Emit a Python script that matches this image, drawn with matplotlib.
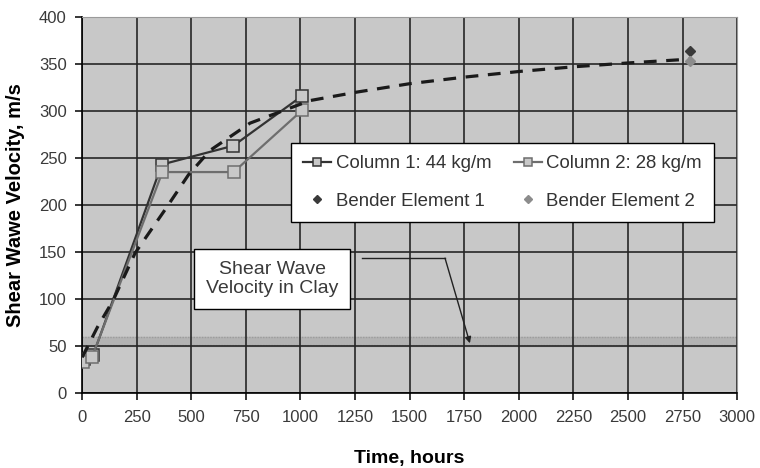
import matplotlib
matplotlib.use("Agg")
import matplotlib.pyplot as plt

# --------------------------------------------------------
# Data
# --------------------------------------------------------
col1_t = [10, 50, 365, 693, 1008]
col1_v = [36, 40, 243, 263, 316]

col2_t = [5, 45, 368, 694, 1009]
col2_v = [33, 38, 235, 235, 301]

# fitted trend (dashed)
fit_t = [0, 70, 143, 243, 380, 487, 586, 769, 952, 1044, 1258, 1502, 1754, 2005, 2257, 2501, 2780]
fit_v = [38, 70, 99, 149, 195, 232, 258, 287, 303, 311, 320, 329, 336, 342, 347, 351, 355]

be1_t, be1_v = [2784], [364]
be2_t, be2_v = [2784], [353]

clay_low, clay_high = 50, 60

x_ticks = list(range(0, 3001, 250))
y_ticks = list(range(0, 401, 50))

# --------------------------------------------------------
# Figure
# --------------------------------------------------------
plt.rcParams["font.family"] = ["Liberation Sans", "DejaVu Sans"]

fig = plt.figure(figsize=(7.6, 4.68), dpi=100)
ax = fig.add_axes([0.108, 0.160, 0.862, 0.804])
ax.set_facecolor("#c8c8c8")

# clay velocity band, under the grid
ax.axhspan(clay_low, clay_high, color="#b3b3b3", zorder=0.2)
ax.axhline(clay_high, color="#9c9c9c", lw=1, ls=(0, (1, 1)), zorder=0.3)
ax.axhline(clay_low + 1.2, color="#a5a5a5", lw=1, ls=(0, (1, 1)), zorder=0.3)

ax.set_xticks(x_ticks)
ax.set_yticks(y_ticks)
ax.set_axisbelow(True)
ax.grid(True, color="#262626", lw=1.2)

ax.plot(col1_t, col1_v, color="#333333", lw=1.6, marker="s", ms=8,
        mfc="#c8c8c8", mec="#333333", mew=1.1, label="Column 1: 44 kg/m", zorder=4)
ax.plot(col2_t, col2_v, color="#6e6e6e", lw=1.6, marker="s", ms=8,
        mfc="#c8c8c8", mec="#6e6e6e", mew=1.1, label="Column 2: 28 kg/m", zorder=4)
ax.plot(fit_t, fit_v, color="#1a1a1a", lw=2.3, ls=(0, (4, 3)), zorder=5)
ax.plot(be1_t, be1_v, ls="none", marker="D", ms=5.5, color="#3a3a3a",
        label="Bender Element 1", zorder=6)
ax.plot(be2_t, be2_v, ls="none", marker="D", ms=5.5, color="#8c8c8c",
        label="Bender Element 2", zorder=6)

ax.set_xlim(0, 3000)
ax.set_ylim(0, 400)

# annotation box + bent arrow
ax.text(870, 121, "Shear Wave\nVelocity in Clay", ha="center", va="center",
        fontsize=14, color="#3a3a3a", linespacing=1.15, zorder=7,
        bbox=dict(boxstyle="square,pad=0.62", fc="white", ec="black", lw=1))
ax.plot([1280, 1662], [143.5, 143.5], color="#222222", lw=1, zorder=7)
ax.annotate("", xy=(1776, 53), xytext=(1662, 143.5),
            arrowprops=dict(arrowstyle="-|>", color="#222222", lw=1,
                            mutation_scale=9, shrinkA=0, shrinkB=0), zorder=7)

# legend (column-first fill -> reorder)
h, l = ax.get_legend_handles_labels()
order = [0, 2, 1, 3]
leg = ax.legend([h[i] for i in order], [l[i] for i in order], ncol=2,
                loc="upper left", bbox_to_anchor=(0.319, 0.665),
                fontsize=13.4, frameon=True, fancybox=False, edgecolor="black",
                framealpha=1, facecolor="white",
                handlelength=1.5, handletextpad=0.25, columnspacing=1.2,
                borderpad=0.65, labelspacing=1.1, markerscale=0.7,
                borderaxespad=0)
leg.get_frame().set_linewidth(1)
for t in leg.get_texts():
    t.set_color("#333333")

# axes styling
for s in ["top", "right"]:
    ax.spines[s].set_color("#9a9a9a")
for s in ["left", "bottom"]:
    ax.spines[s].set_color("black")
    ax.spines[s].set_linewidth(1.2)
ax.tick_params(direction="out", length=5, width=1.1, color="black", labelcolor="#3a3a3a")
ax.tick_params(axis="y", labelsize=12, pad=6)
ax.tick_params(axis="x", labelsize=12, pad=7)
for lab in ax.get_xticklabels():
    lab.set_family(["Liberation Sans Narrow", "Liberation Sans"])

ax.set_xlabel("Time, hours", fontsize=14, fontweight="bold",
              family=["Liberation Sans Narrow", "Liberation Sans"], labelpad=18)
ax.set_ylabel("Shear Wawe Velocity, m/s", fontsize=14.5, fontweight="bold", labelpad=10)

fig.savefig("out.png", dpi=100, facecolor="white")
